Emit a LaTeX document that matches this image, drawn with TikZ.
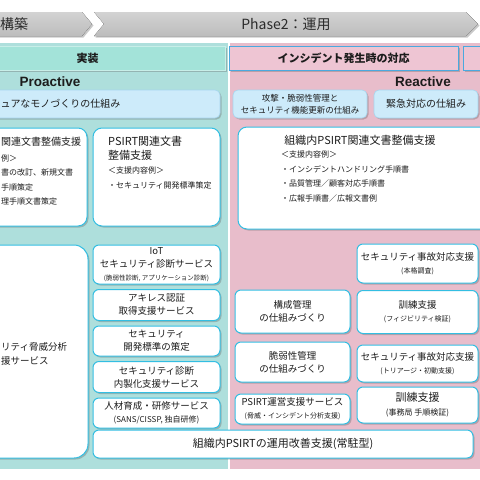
\documentclass[tikz,border=0pt]{standalone}
\usepackage{fontspec}
\newfontfamily\jp{Noto Sans CJK JP}
\newfontfamily\lat{Liberation Sans}
\usetikzlibrary{positioning,shadows}
\definecolor{phasetop}{HTML}{D3D3D3}
\definecolor{phasebottom}{HTML}{BCBCBC}
\definecolor{phaseink}{HTML}{2B2B2B}
\definecolor{implteal}{HTML}{AEDFDC}
\definecolor{headteal}{HTML}{A3E3D9}
\definecolor{opspink}{HTML}{E8BDCB}
\definecolor{headpink}{HTML}{EEC5D3}
\definecolor{headline}{HTML}{4AA9DF}
\definecolor{mechblue}{HTML}{CDEBFA}
\definecolor{mechline}{HTML}{A6D6EF}
\definecolor{svcline}{HTML}{33BEE2}
\definecolor{textdark}{HTML}{1C1C1C}
\newcommand{\subnote}[1]{{\fontsize{7}{8.5}\selectfont #1}}
\tikzset{
  every node/.style={text=textdark},
  softshadow/.style={drop shadow={shadow xshift=1.5pt, shadow yshift=-1.5pt, opacity=0.35, fill=black!60}},
  phase/.style={top color=phasetop, bottom color=phasebottom, softshadow},
  phasetext/.style={font=\jp\fontsize{14}{16}\selectfont, text=phaseink},
  headbox/.style={
    rectangle, minimum height=24, line width=0.8pt,
    font=\jp\bfseries\fontsize{11}{13}\selectfont, softshadow
  },
  sidelabel/.style={font=\lat\bfseries\fontsize{13.5}{16}\selectfont},
  mechbar/.style={
    rectangle, rounded corners=5pt, fill=mechblue, draw=mechline, line width=0.6pt,
    minimum height=28, align=center, inner sep=1pt,
    font=\jp\fontsize{8.5}{12}\selectfont, softshadow
  },
  svcbox/.style={
    rectangle, rounded corners=6pt, fill=white, draw=svcline, line width=1pt,
    align=center, inner sep=1pt, font=\jp\fontsize{9.5}{13}\selectfont, softshadow
  },
  docbox/.style={svcbox, rounded corners=9pt},
  doctitle/.style={font=\jp\fontsize{11}{14}\selectfont, align=left, inner sep=0pt},
  doclist/.style={font=\jp\fontsize{8}{14.5}\selectfont, align=left, anchor=north west, inner sep=0pt}
}

\begin{document}
\begin{tikzpicture}[x=1pt, y=-1pt]
\useasboundingbox (0,0) rectangle (480,480);
\clip (0,0) rectangle (480,480);
\fill[white] (0,0) rectangle (480,480);

\fill[phase] (-20,12) -- (82,12) -- (92,24) -- (82,36) -- (-20,36) -- cycle;
\fill[phase] (94,12) -- (466,12) -- (478,24) -- (466,36) -- (94,36) -- (104,24) -- cycle;
\node[phasetext, anchor=west, inner sep=0pt] (buildlbl) at (0,24) {構築};
\node[phasetext] (runlbl) at (286,24) {Phase2：運用};

\fill[implteal] (-10,43) rectangle (227.5,469);
\fill[opspink] (229.5,43) rectangle (500,469);

\node[headbox, fill=headteal, draw=headteal!60!white, minimum width=275] (impl) at (87.5,58) {実装};
\node[headbox, fill=headpink, draw=headline, minimum width=229] (incident) at (343.5,58) {インシデント発生時の対応};
\node[headbox, fill=headpink, draw=headline, minimum width=100] (nexthead) at (513,58) {};

\node[sidelabel] (proactive) at (50,82) {Proactive};
\node[sidelabel] (reactive) at (423,82) {Reactive};

\node[mechbar, minimum width=240] (securebar) at (100,104) {};
\node[anchor=west, inner sep=0pt, font=\jp\fontsize{10}{12}\selectfont] (securetxt) at (0.5,104) {ュアなモノづくりの仕組み};
\node[mechbar, minimum width=134] (vulnbar) at (300,104) {攻撃・脆弱性管理と\\セキュリティ機能更新の仕組み};
\node[mechbar, minimum width=104, font=\jp\fontsize{10}{12}\selectfont] (urgentbar) at (426,104) {緊急対応の仕組み};

\node[docbox, minimum width=107, minimum height=98] (docleft) at (33.5,177) {};
\node[doclist, anchor=north west] (docleftlist) at (1,137) {{\fontsize{10}{14}\selectfont 関連文書整備支援}\\[1pt]例＞\\書の改訂、新規文書\\手順策定\\理手順文書策定};
\node[docbox, minimum width=127, minimum height=98] (psirtdoc) at (156.5,177) {};
\node[doctitle, anchor=north west] (psirtdoctitle) at (108,136) {PSIRT関連文書\\整備支援};
\node[doclist] (psirtdoclist) at (108,167) {＜支援内容例＞\\・セキュリティ開発標準策定};
\node[docbox, minimum width=252, minimum height=102] (orgdoc) at (364,178) {};
\node[doctitle] (orgdoctitle) at (360,140) {組織内PSIRT関連文書整備支援};
\node[doclist] (orgdoclist) at (281,151) {＜支援内容例＞\\・インシデントハンドリング手順書\\・品質管理／顧客対応手順書\\・広報手順書／広報文書例};

\node[svcbox, rounded corners=14pt, minimum width=108, minimum height=213] (threat) at (34,351.5) {};
\node[anchor=west, inner sep=0pt, align=left, font=\jp\fontsize{9.5}{14}\selectfont] (threattxt) at (1,354) {リティ脅威分析\\援サービス};

\node[svcbox, minimum width=127, minimum height=39] (iot) at (156.5,264.5) {IoT\\セキュリティ診断サービス\\{\fontsize{6.5}{8}\selectfont (脆弱性診断, アプリケーション診断)}};
\node[svcbox, minimum width=127, minimum height=31, below=4.5pt of iot] (achilles) {アキレス認証\\取得支援サービス};
\node[svcbox, minimum width=127, minimum height=30, below=4.5pt of achilles] (devstd) {セキュリティ\\開発標準の策定};
\node[svcbox, minimum width=127, minimum height=31, below=4.5pt of devstd] (inhouse) {セキュリティ診断\\内製化支援サービス};
\node[svcbox, minimum width=127, minimum height=30, below=4.5pt of inhouse] (training) {人材育成・研修サービス\\{\fontsize{8}{10}\selectfont (SANS/CISSP, 独自研修)}};
\node[svcbox, minimum width=380, minimum height=28, font=\jp\fontsize{11}{13}\selectfont] (resident) at (283,444) {組織内PSIRTの運用改善支援(常駐型)};

\node[svcbox, minimum width=115, minimum height=43] (config) at (292.5,311.5) {構成管理\\の仕組みづくり};
\node[svcbox, minimum width=115, minimum height=40] (vulnmgmt) at (292.5,362) {脆弱性管理\\の仕組みづくり};
\node[svcbox, minimum width=115, minimum height=30] (psirtops) at (292.5,409) {PSIRT運営支援サービス\\\subnote{(脅威・インシデント分析支援)}};

\node[svcbox, minimum width=121, minimum height=39] (incident1) at (417.5,263.5) {セキュリティ事故対応支援\\\subnote{(本格調査)}};
\node[svcbox, minimum width=121, minimum height=43] (drill1) at (417.5,312) {訓練支援\\\subnote{(フィジビリティ検証)}};
\node[svcbox, minimum width=121, minimum height=37] (incident2) at (417.5,363.5) {セキュリティ事故対応支援\\\subnote{(トリアージ・初動支援)}};
\node[svcbox, minimum width=121, minimum height=36, font=\jp\fontsize{11}{14}\selectfont] (drill2) at (417.5,405) {訓練支援\\{\fontsize{8}{10}\selectfont (事務局 手順検証)}};
\end{tikzpicture}
\end{document}
